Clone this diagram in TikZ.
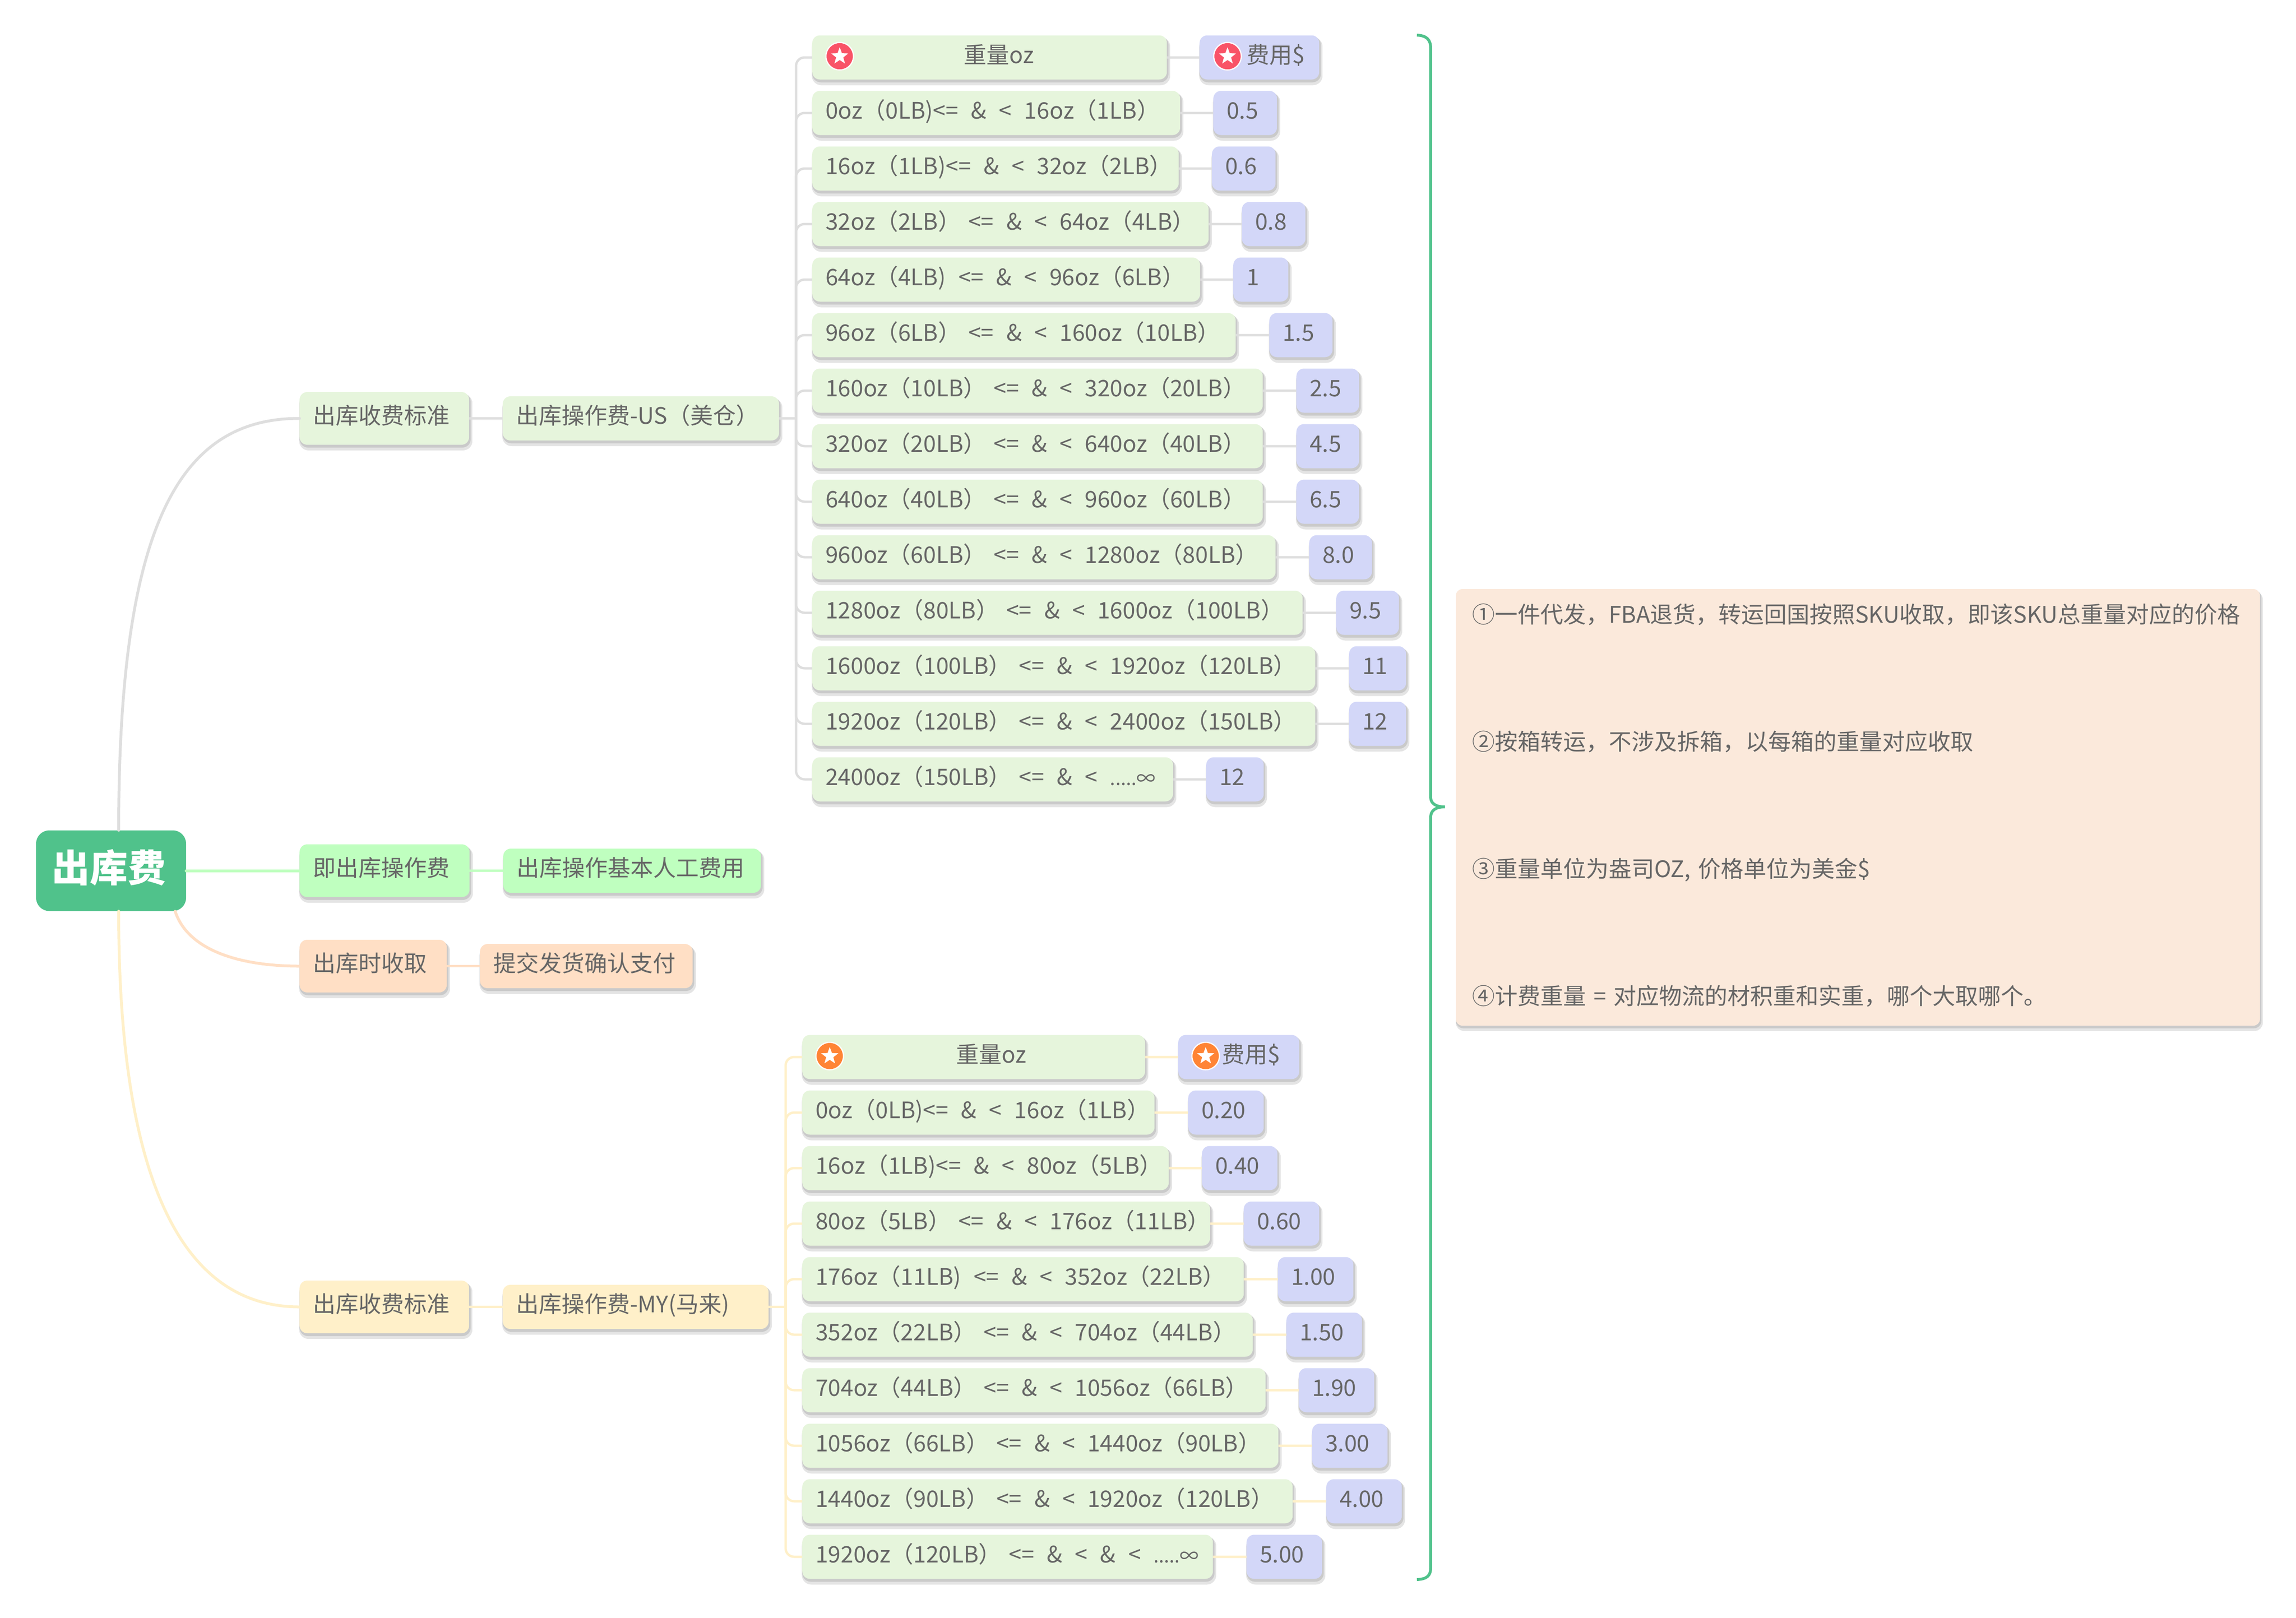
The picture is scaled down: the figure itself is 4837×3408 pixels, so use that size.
\documentclass[tikz,border=0pt]{standalone}
\usepackage{fontspec}
\setmainfont{Noto Sans CJK SC}
\usepackage{tikz}
\usetikzlibrary{shadows, shapes.geometric}
\newcommand\pg{\hspace{16pt}}
\newcommand\tailinf{{\fontsize{40}{40}\selectfont .....∞}}
\definecolor{rootgreen}{HTML}{50C28B}
\definecolor{leafgreen}{HTML}{E6F5DC}
\definecolor{valblue}{HTML}{D3D7F8}
\definecolor{brightgreen}{HTML}{BFFFBF}
\definecolor{peach}{HTML}{FFDFC5}
\definecolor{paleyellow}{HTML}{FFF0C9}
\definecolor{notepeach}{HTML}{FBE9DB}
\definecolor{linegray}{HTML}{DEDEDE}
\definecolor{inkgray}{HTML}{666666}
\definecolor{shadedark}{HTML}{CACACA}
\definecolor{shadelight}{HTML}{E4E4E4}
\definecolor{starred}{HTML}{F95367}
\definecolor{starorange}{HTML}{FF8435}
\tikzset{
	card/.style={anchor=west, rounded corners=16pt, text=inkgray, inner xsep=28pt, inner ysep=10.5pt,
		text height=48pt, text depth=24pt, font=\fontsize{48}{52}\selectfont,
		execute at begin node={\leavevmode\hbox\bgroup\spaceskip=26.5pt\xspaceskip=26.5pt\relax},
		execute at end node={\egroup},
		general shadow={fill=shadelight, draw=shadelight, line width=8pt, shadow xshift=3pt, shadow yshift=-8pt},
		general shadow={fill=shadedark, draw=shadedark, line width=3.5pt, shadow xshift=1.75pt, shadow yshift=-4.25pt}},
	leaf/.style={card, fill=leafgreen, text width=#1, align=left},
	val/.style={card, fill=valblue, text width=#1, align=left},
	headleaf/.style={card, fill=leafgreen, minimum width=#1, align=center},
	headval/.style={card, fill=valblue, minimum width=#1, align=center},
	badge/.style={circle, draw=white, line width=2.5pt, minimum size=58pt, inner sep=0pt},
	whitestar/.style={star, star points=5, star point ratio=2.4, fill=white, minimum size=38pt, inner sep=0pt},
	grayline/.style={draw=linegray, line width=5pt, rounded corners=18pt},
	yellowline/.style={draw=paleyellow, line width=5pt, rounded corners=18pt},
	mainline/.style={line width=6pt, line cap=round}
}
\begin{document}
\begin{tikzpicture}[x=1pt,y=-1pt]
	\useasboundingbox (0,0) rectangle (4837,3408);
	% root and its branches
	\node[rounded corners=28pt, fill=rootgreen, text=white, minimum width=316pt, inner ysep=28.5pt, text height=80pt, text depth=33pt, inner xsep=0pt, font=\fontsize{80}{84}\selectfont\bfseries] (root) at (234,1834.5) {出库费\hspace*{9pt}};
	\coordinate (rootpeach) at (369,1920);
	\node[leaf=301pt, fill=leafgreen, inner ysep=19.5pt] (usstd) at (631,881.5) {出库收费标准};
	\node[leaf=526pt] (usop) at (1059,881.5) {出库操作费-US（美仓）};
	\node[leaf=302pt, fill=brightgreen, inner ysep=19.5pt] (nowop) at (631,1834.5) {即出库操作费};
	\node[leaf=487pt, fill=brightgreen] (nowlabor) at (1060,1834.5) {出库操作基本人工费用};
	\node[leaf=254pt, fill=peach, inner ysep=19.5pt] (paytime) at (631,2035.5) {出库时收取};
	\node[leaf=392pt, fill=peach] (paysubmit) at (1011,2035.5) {提交发货确认支付};
	\node[leaf=301pt, fill=paleyellow, inner ysep=19.5pt] (mystd) at (631,2753.5) {出库收费标准};
	\node[leaf=504pt, fill=paleyellow] (myop) at (1059,2753.5) {出库操作费-MY(马来)};
	\draw[mainline, linegray] ([xshift=16pt]root.north) .. controls (250,1100) and (380,881.5) .. (usstd.west);
	\draw[mainline, brightgreen] (root.east) -- (nowop.west);
	\draw[mainline, peach] (rootpeach) .. controls (395,2000) and (500,2035.5) .. (paytime.west);
	\draw[mainline, paleyellow] ([xshift=16pt]root.south) .. controls (250,2480) and (380,2753.5) .. (mystd.west);
	\draw[grayline] (usstd.east) -- (usop.west);
	\draw[draw=brightgreen, line width=5pt] (nowop.east) -- (nowlabor.west);
	\draw[draw=peach, line width=5pt] (paytime.east) -- (paysubmit.west);
	\draw[yellowline] (mystd.east) -- (myop.west);
	% US table
	\coordinate (usspine) at (1677,881.5);
	\node[headleaf=747pt] (us0) at (1711,121) {\hspace*{40pt}重量oz};
	\node[leaf=719pt] (us1) at (1711,238) {0oz（0LB)<= \& < 16oz（1LB）};
	\node[leaf=716pt] (us2) at (1711,355) {16oz（1LB)<= \& < 32oz（2LB）};
	\node[leaf=779pt] (us3) at (1711,472) {32oz（2LB）\pg<= \& < 64oz（4LB）};
	\node[leaf=761pt] (us4) at (1711,589) {64oz（4LB) <= \& < 96oz（6LB）};
	\node[leaf=836pt] (us5) at (1711,706) {96oz（6LB）\pg<= \& < 160oz（10LB）};
	\node[leaf=893pt] (us6) at (1711,823) {160oz（10LB）\pg<= \& < 320oz（20LB）};
	\node[leaf=893pt] (us7) at (1711,940) {320oz（20LB）\pg<= \& < 640oz（40LB）};
	\node[leaf=893pt] (us8) at (1711,1057) {640oz（40LB）\pg<= \& < 960oz（60LB）};
	\node[leaf=920pt] (us9) at (1711,1174) {960oz（60LB）\pg<= \& < 1280oz（80LB）};
	\node[leaf=977pt] (us10) at (1711,1291) {1280oz（80LB）\pg<= \& < 1600oz（100LB）};
	\node[leaf=1003.5pt] (us11) at (1711,1408) {1600oz（100LB）\pg<= \& < 1920oz（120LB）};
	\node[leaf=1003.5pt] (us12) at (1711,1525) {1920oz（120LB）\pg<= \& < 2400oz（150LB）};
	\node[leaf=704pt] (us13) at (1711,1642) {2400oz（150LB）\pg<= \& < \tailinf};
	\node[headval=252pt] (usv0) at (2527,121) {\hspace*{70pt}费用\$};
	\node[val=78pt] (usv1) at (2556,238) {0.5};
	\node[val=78pt] (usv2) at (2553,355) {0.6};
	\node[val=78pt] (usv3) at (2616,472) {0.8};
	\node[val=60pt] (usv4) at (2598,589) {1};
	\node[val=77pt] (usv5) at (2674,706) {1.5};
	\node[val=76pt] (usv6) at (2731,823) {2.5};
	\node[val=76pt] (usv7) at (2731,940) {4.5};
	\node[val=76pt] (usv8) at (2731,1057) {6.5};
	\node[val=76pt] (usv9) at (2758,1174) {8.0};
	\node[val=76pt] (usv10) at (2815,1291) {9.5};
	\node[val=64pt] (usv11) at (2842,1408) {11};
	\node[val=64pt] (usv12) at (2842,1525) {12};
	\node[val=65pt] (usv13) at (2541,1642) {12};
	\draw[grayline] (usop.east) -- (usspine);
	\draw[grayline] (usspine) |- (us0.west) (us0.east) -- (usv0.west);
	\draw[grayline] (usspine) |- (us1.west) (us1.east) -- (usv1.west);
	\draw[grayline] (usspine) |- (us2.west) (us2.east) -- (usv2.west);
	\draw[grayline] (usspine) |- (us3.west) (us3.east) -- (usv3.west);
	\draw[grayline] (usspine) |- (us4.west) (us4.east) -- (usv4.west);
	\draw[grayline] (usspine) |- (us5.west) (us5.east) -- (usv5.west);
	\draw[grayline] (usspine) |- (us6.west) (us6.east) -- (usv6.west);
	\draw[grayline] (usspine) |- (us7.west) (us7.east) -- (usv7.west);
	\draw[grayline] (usspine) |- (us8.west) (us8.east) -- (usv8.west);
	\draw[grayline] (usspine) |- (us9.west) (us9.east) -- (usv9.west);
	\draw[grayline] (usspine) |- (us10.west) (us10.east) -- (usv10.west);
	\draw[grayline] (usspine) |- (us11.west) (us11.east) -- (usv11.west);
	\draw[grayline] (usspine) |- (us12.west) (us12.east) -- (usv12.west);
	\draw[grayline] (usspine) |- (us13.west) (us13.east) -- (usv13.west);
	\node[badge, fill=starred] (usbadge) at (1769,118.5) {};
	\node[whitestar] (usstar) at (1769,118.5) {};
	\node[badge, fill=starred] (usvbadge) at (2586,118.5) {};
	\node[whitestar] (usvstar) at (2586,118.5) {};
	% MY table
	\coordinate (myspine) at (1655,2753.5);
	\node[headleaf=722pt] (my0) at (1690,2227) {\hspace*{74pt}重量oz};
	\node[leaf=686pt] (my1) at (1690,2344) {0oz（0LB)<= \& < 16oz（1LB）};
	\node[leaf=716pt] (my2) at (1690,2461) {16oz（1LB)<= \& < 80oz（5LB）};
	\node[leaf=803pt] (my3) at (1690,2578) {80oz（5LB）\pg<= \& < 176oz（11LB）};
	\node[leaf=874pt] (my4) at (1690,2695) {176oz（11LB) <= \& < 352oz（22LB）};
	\node[leaf=893pt] (my5) at (1690,2812) {352oz（22LB）\pg<= \& < 704oz（44LB）};
	\node[leaf=920pt] (my6) at (1690,2929) {704oz（44LB）\pg<= \& < 1056oz（66LB）};
	\node[leaf=947pt] (my7) at (1690,3046) {1056oz（66LB）\pg<= \& < 1440oz（90LB）};
	\node[leaf=977pt] (my8) at (1690,3163) {1440oz（90LB）\pg<= \& < 1920oz（120LB）};
	\node[leaf=809pt] (my9) at (1690,3280) {1920oz（120LB）\pg<= \& < \& < \tailinf};
	\node[headval=255pt] (myv0) at (2482,2227) {\hspace*{52pt}费用\$};
	\node[val=103pt] (myv1) at (2503,2344) {0.20};
	\node[val=103pt] (myv2) at (2532,2461) {0.40};
	\node[val=103pt] (myv3) at (2620,2578) {0.60};
	\node[val=103pt] (myv4) at (2692,2695) {1.00};
	\node[val=103pt] (myv5) at (2710,2812) {1.50};
	\node[val=103pt] (myv6) at (2736,2929) {1.90};
	\node[val=103pt] (myv7) at (2764,3046) {3.00};
	\node[val=103pt] (myv8) at (2794,3163) {4.00};
	\node[val=103pt] (myv9) at (2626,3280) {5.00};
	\draw[yellowline] (myop.east) -- (myspine);
	\draw[yellowline] (myspine) |- (my0.west) (my0.east) -- (myv0.west);
	\draw[yellowline] (myspine) |- (my1.west) (my1.east) -- (myv1.west);
	\draw[yellowline] (myspine) |- (my2.west) (my2.east) -- (myv2.west);
	\draw[yellowline] (myspine) |- (my3.west) (my3.east) -- (myv3.west);
	\draw[yellowline] (myspine) |- (my4.west) (my4.east) -- (myv4.west);
	\draw[yellowline] (myspine) |- (my5.west) (my5.east) -- (myv5.west);
	\draw[yellowline] (myspine) |- (my6.west) (my6.east) -- (myv6.west);
	\draw[yellowline] (myspine) |- (my7.west) (my7.east) -- (myv7.west);
	\draw[yellowline] (myspine) |- (my8.west) (my8.east) -- (myv8.west);
	\draw[yellowline] (myspine) |- (my9.west) (my9.east) -- (myv9.west);
	\node[badge, fill=starorange] (mybadge) at (1748,2225) {};
	\node[whitestar] (mystar) at (1748,2225) {};
	\node[badge, fill=starorange] (myvbadge) at (2540,2225) {};
	\node[whitestar] (myvstar) at (2540,2225) {};
	% brace and summary
	\draw[draw=rootgreen, line width=6pt] (2985,74) .. controls (3006,75) and (3014,84) .. (3014,102) -- (3014,1680) .. controls (3014,1693) and (3025,1700) .. (3044,1700) .. controls (3025,1700) and (3014,1707) .. (3014,1722) -- (3014,3303) .. controls (3014,3320) and (3006,3327) .. (2985,3328);
	\node[fill=notepeach, text=inkgray, rounded corners=14pt, text width=1626pt, inner xsep=34pt, minimum height=920pt, align=left, text depth=818pt, font=\fontsize{48}{52}\selectfont,
		general shadow={fill=shadelight, draw=shadelight, line width=6pt, shadow xshift=3pt, shadow yshift=-8pt},
		general shadow={fill=shadedark, draw=shadedark, line width=3pt, shadow xshift=1.5pt, shadow yshift=-4pt}] (note) at (3914,1701) {①一件代发，FBA退货，转运回国按照SKU收取，即该SKU总重量对应的价格\\[216pt]
		②按箱转运，不涉及拆箱，以每箱的重量对应收取\\[216pt]
		③重量单位为盎司OZ, 价格单位为美金\$\\[216pt]
		④计费重量 = 对应物流的材积重和实重，哪个大取哪个。};
\end{tikzpicture}
\end{document}
